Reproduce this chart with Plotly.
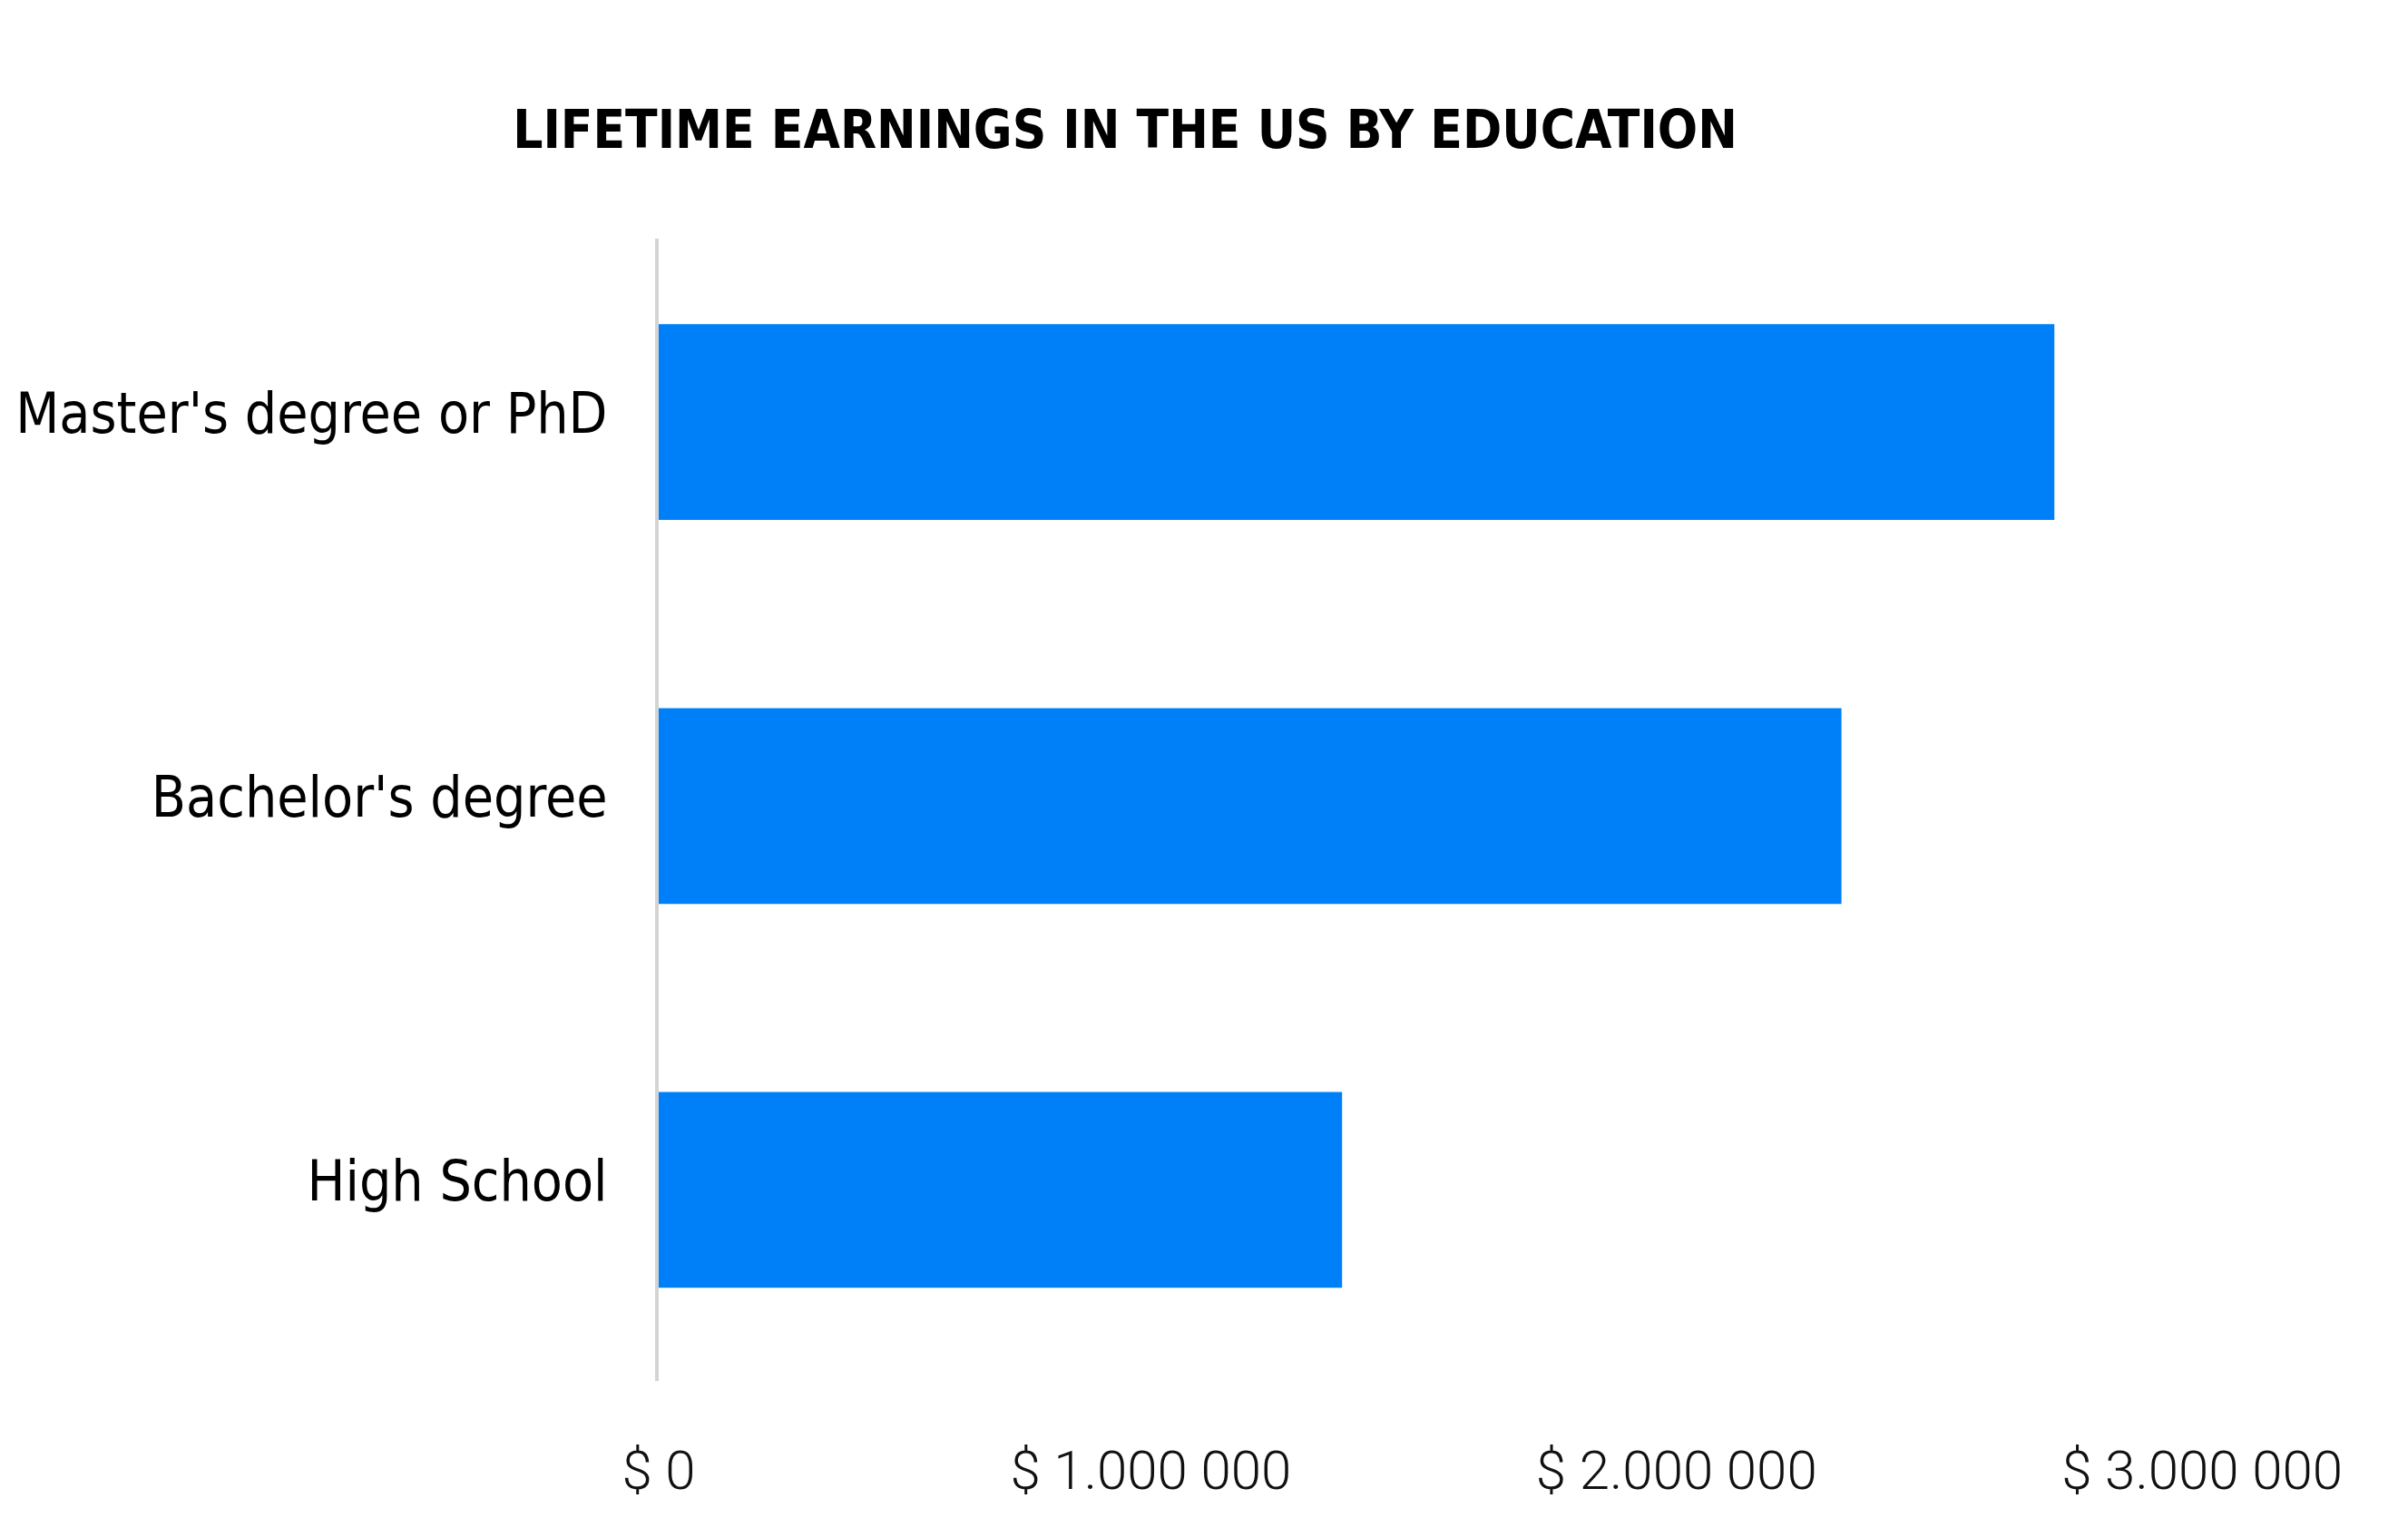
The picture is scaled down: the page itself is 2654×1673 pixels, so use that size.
import plotly.graph_objects as go

# ---- data ----
categories = ["High School", "Bachelor's degree", "Master's degree or PhD"]
earnings = [1300000, 2250000, 2655000]
tick_values = [1000000, 2000000, 3000000]
tick_labels = ["$ 1.000 000", "$ 2.000 000", "$ 3.000 000"]
zero_tick_value = [0]
zero_tick_label = ["$ 0"]
title_text = "LIFETIME EARNINGS IN THE US BY EDUCATION"

W, H = 2654, 1673
BLUE = "#0080f8"
LABEL_FONT = "Liberation Sans Narrow, Arial Narrow, DejaVu Sans Condensed, sans-serif"
TICK_FONT = dict(family="Roboto, Lato, sans-serif", size=60, color="#111", weight=300)

fig = go.Figure()
fig.add_trace(go.Bar(
    x=earnings, y=categories, orientation="h",
    marker=dict(color=BLUE, line=dict(width=0)),
    width=0.51, hoverinfo="x+y",
))
# invisible trace to carry the overlaid axis for the zero label
fig.add_trace(go.Scatter(x=zero_tick_value, y=[categories[0]], xaxis="x2",
                         mode="markers", marker=dict(opacity=0), hoverinfo="skip",
                         showlegend=False))

xrange = [0, 3200000]
fig.update_layout(
    width=W, height=H,
    margin=dict(l=726, r=74, t=263, b=151),
    paper_bgcolor="white", plot_bgcolor="white",
    showlegend=False,
    title=dict(
        text=title_text,
        x=1240 / W, xref="container", xanchor="center",
        y=1 - 143 / H, yref="container", yanchor="middle",
        font=dict(family=LABEL_FONT, size=58, color="black", weight=700),
    ),
    xaxis=dict(
        range=xrange, showgrid=False, zeroline=False, showline=False,
        tickmode="array", tickvals=tick_values, ticktext=tick_labels,
        ticks="", ticklabelshift=-37, ticklabelstandoff=58,
        tickfont=TICK_FONT, automargin=False,
        fixedrange=True,
    ),
    xaxis2=dict(
        range=xrange, overlaying="x", anchor="y", side="bottom",
        showgrid=False, zeroline=False, showline=False,
        tickmode="array", tickvals=zero_tick_value, ticktext=zero_tick_label,
        ticks="", ticklabelstandoff=58,
        tickfont=TICK_FONT, automargin=False,
        fixedrange=True,
    ),
    yaxis=dict(
        type="category", categoryorder="array", categoryarray=categories,
        range=[-0.498, 2.478],
        showgrid=False, zeroline=False,
        showline=True, linecolor="#d4d4d4", linewidth=4,
        ticks="", ticklabelstandoff=40, ticklabelshift=-10, automargin=False,
        tickfont=dict(family=LABEL_FONT, size=62, color="black"),
        fixedrange=True,
    ),
)

fig.write_html("out.html", config={"displayModeBar": False},
               post_script="document.body.style.margin='0';document.body.style.overflow='hidden';")
